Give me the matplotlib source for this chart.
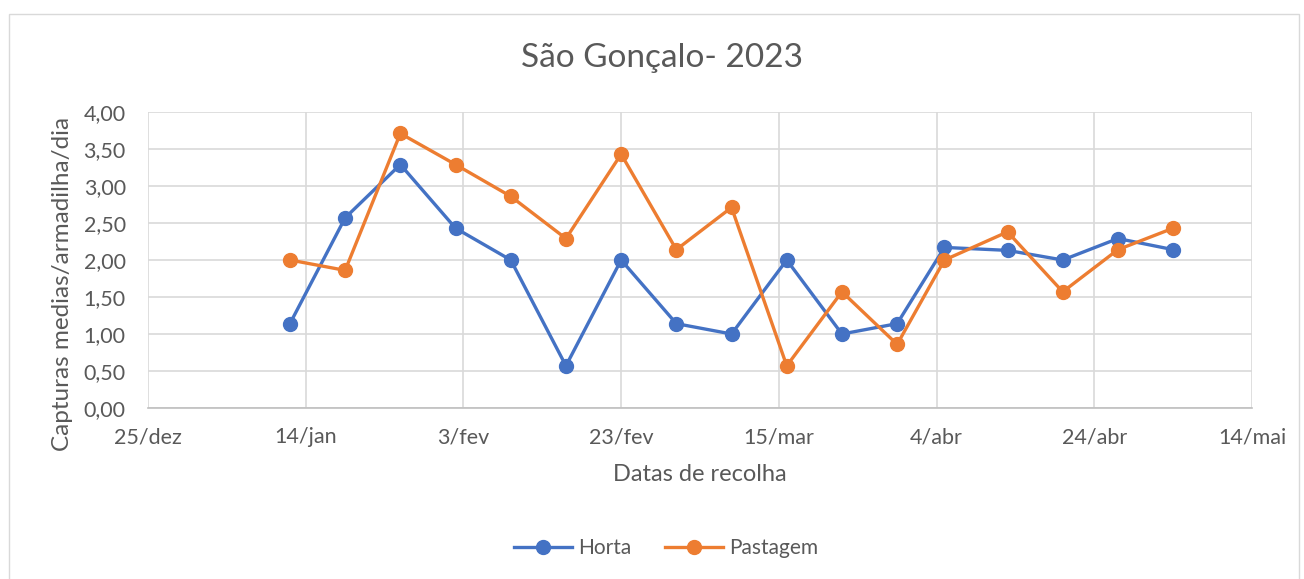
import datetime as dt
import matplotlib.pyplot as plt
import matplotlib.dates as mdates
from matplotlib.ticker import FuncFormatter
from matplotlib.patches import Rectangle

plt.rcParams['font.family'] = ['Lato', 'DejaVu Sans']

datas = ['2023-01-12', '2023-01-19', '2023-01-26', '2023-02-02', '2023-02-09',
         '2023-02-16', '2023-02-23', '2023-03-02', '2023-03-09', '2023-03-16',
         '2023-03-23', '2023-03-30', '2023-04-05', '2023-04-13', '2023-04-20',
         '2023-04-27', '2023-05-04']
horta = [1.14, 2.57, 3.29, 2.43, 2.00, 0.57, 2.00, 1.14, 1.00, 2.00,
         1.00, 1.14, 2.17, 2.13, 2.00, 2.29, 2.14]
pastagem = [2.00, 1.86, 3.71, 3.29, 2.86, 2.29, 3.43, 2.14, 2.71, 0.57,
            1.57, 0.86, 2.00, 2.38, 1.57, 2.14, 2.43]
meses = ['jan', 'fev', 'mar', 'abr', 'mai', 'jun', 'jul', 'ago', 'set', 'out', 'nov', 'dez']

x = [dt.datetime.strptime(d, '%Y-%m-%d') for d in datas]
cinza = '#595959'

fig = plt.figure(figsize=(13.04, 5.79), dpi=100)
fig.patches.append(Rectangle((9 / 1304, -0.1), 1290 / 1304, 1.1 - 14 / 579,
                             transform=fig.transFigure, fill=False,
                             edgecolor='#D9D9D9', linewidth=1))
ax = fig.add_axes([148 / 1304, 1 - 408 / 579, 1104 / 1304, 296 / 579])

ax.plot(x, horta, color='#4472C4', lw=2.4, marker='o', ms=10, label='Horta')
ax.plot(x, pastagem, color='#ED7D31', lw=2.4, marker='o', ms=10, label='Pastagem')

inicio = dt.datetime(2022, 12, 25)
ticks = [inicio + dt.timedelta(days=20 * i) for i in range(8)]
ax.set_xlim(ticks[0], ticks[-1])
ax.set_xticks(ticks)
ax.xaxis.set_major_formatter(FuncFormatter(
    lambda v, p: '%d/%s' % (mdates.num2date(v).day, meses[mdates.num2date(v).month - 1])))
ax.set_ylim(0, 4)
ax.set_yticks([i * 0.5 for i in range(9)])
ax.yaxis.set_major_formatter(FuncFormatter(lambda v, p: ('%.2f' % v).replace('.', ',')))

ax.grid(True, color='#D9D9D9', lw=1.2)
ax.set_axisbelow(True)
for s in ['top', 'right', 'left']:
    ax.spines[s].set_visible(False)
ax.spines['bottom'].set_color('#BFBFBF')
ax.spines['bottom'].set_linewidth(1.2)
ax.tick_params(length=0, labelsize=15.5, colors=cinza)
ax.tick_params(axis='x', pad=14)
ax.tick_params(axis='y', pad=16)

fig.text(662 / 1304, 1 - 58 / 579, 'São Gonçalo- 2023', fontsize=24, color=cinza,
         ha='center', va='center')
ax.set_xlabel('Datas de recolha', fontsize=17, color=cinza, labelpad=12)
ax.set_ylabel('Capturas medias/armadilha/dia', fontsize=17.5, color=cinza)
ax.yaxis.set_label_coords(-75 / 1104, 0.42)

fig.legend(loc='center', bbox_to_anchor=(666 / 1304, 1 - 548 / 579), ncol=2, frameon=False,
           fontsize=15, labelcolor=cinza, handlelength=2.8, columnspacing=1.6, handletextpad=0.3)

fig.savefig('out.png', dpi=100)
